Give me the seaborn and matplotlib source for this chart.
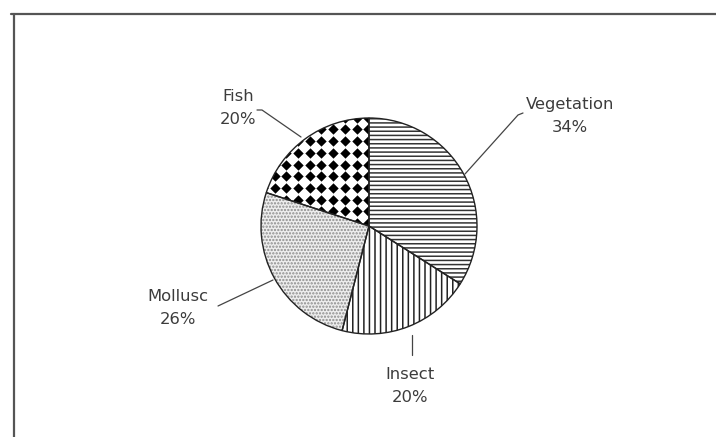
import numpy as np
import matplotlib
matplotlib.use("Agg")
import matplotlib.pyplot as plt
import seaborn as sns

categories = ["Vegetation", "Insect", "Mollusc", "Fish"]
values = [34, 20, 26, 20]
labels = ["Vegetation\n34%", "Insect\n20%", "Mollusc\n26%", "Fish\n20%"]

sns.set_theme(style="white")
plt.rcParams["font.family"] = ["DejaVu Sans"]
plt.rcParams["hatch.linewidth"] = 1.1

W, H = 716, 437
fig = plt.figure(figsize=(W / 100, H / 100), dpi=100)
fig.patch.set_facecolor("white")
ax = fig.add_axes([0, 0, 1, 1])

cx, cy, r = 369, H - 226, 108

hatches = ["----", "|||", ".....", ""]
hcolors = ["#333333", "#222222", "#8c8c8c", "#222222"]
faces = ["white", "white", "#eeeeee", "white"]

wedges, _ = ax.pie(values, startangle=90, counterclock=False, center=(cx, cy),
                   radius=r, colors=faces, frame=True,
                   wedgeprops=dict(linewidth=0))
for w, h, c in zip(wedges, hatches, hcolors):
    w.set_hatch(h)
    w.set_edgecolor(c)
    w.set_linewidth(0)

# Fish texture: grid of black dots clipped to the wedge
fish = wedges[3]
gx = np.arange(cx - r, cx + 1, 11.7)
gy = np.arange(cy, cy + r + 1, 11.7)
GX, GY = np.meshgrid(gx + 2, gy + 3)
sc = ax.scatter(GX.ravel(), GY.ravel(), marker="D", s=28, color="black",
                linewidths=0, zorder=3)
sc.set_clip_path(fish)

outlines, _ = ax.pie(values, startangle=90, counterclock=False, center=(cx, cy),
                     radius=r, colors=["none"] * 4, frame=True,
                     wedgeprops=dict(linewidth=1.0, edgecolor="#222222", zorder=4))

ax.set_xlim(0, W)
ax.set_ylim(0, H)
ax.set_aspect("auto")
ax.axis("off")

tc = "#3c3c3c"
lc = "#444444"
def Y(y):
    return H - y

# leader lines (pixel coords from reference)
ax.plot([465, 518, 523], [Y(174), Y(115), Y(113)], color=lc, lw=0.9)
ax.plot([301, 262, 257], [Y(137), Y(110), Y(110)], color=lc, lw=0.9)
ax.plot([273, 218], [Y(280), Y(306)], color=lc, lw=0.9)
ax.plot([412, 412], [Y(335), Y(355)], color=lc, lw=0.9)

label_pos = [(570, 116), (410, 386), (178, 308), (238, 108)]
for lab, (x, y) in zip(labels, label_pos):
    ax.text(x, Y(y), lab, ha="center", va="center", fontsize=11.8,
            color=tc, linespacing=1.7)

# frame border (top and left visible)
ax.plot([11, W], [Y(14), Y(14)], color="#555555", lw=1.6, clip_on=False)
ax.plot([14, 14], [Y(14), 0], color="#555555", lw=1.6, clip_on=False)

fig.savefig("out.png", dpi=100, facecolor="white")
